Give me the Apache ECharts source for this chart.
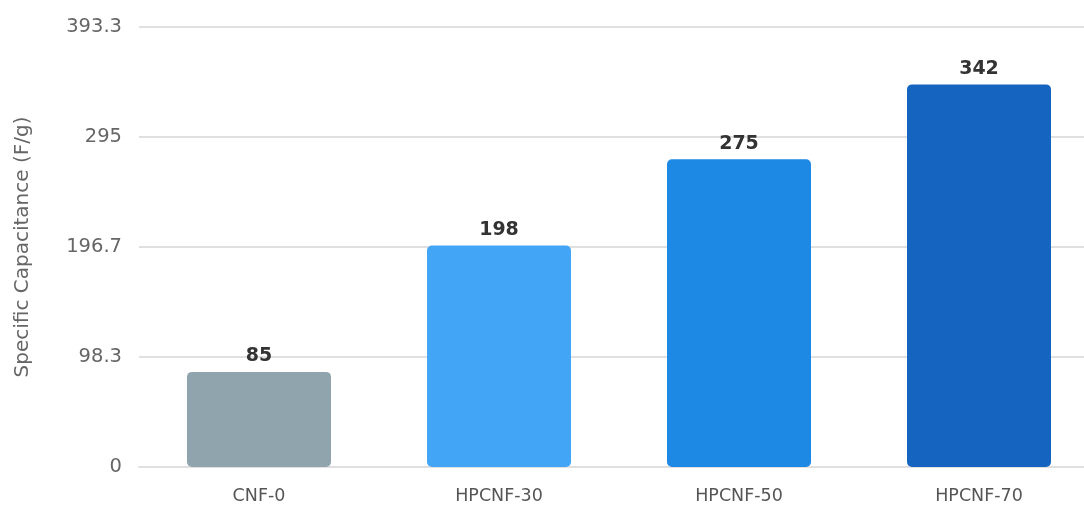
<!DOCTYPE html>
<html>
<head>
<meta charset="utf-8">
<script src="https://cdn.jsdelivr.net/npm/echarts@6/dist/echarts.min.js"></script>
<style>
  html, body { margin: 0; padding: 0; background: #fff; }
  #chart { width: 1084px; height: 505px; }
</style>
</head>
<body>
<div id="chart"></div>
<script>
var categories = ['CNF-0', 'HPCNF-30', 'HPCNF-50', 'HPCNF-70'];
var capacitance = [85, 198, 275, 342];
var barColors = ['#90A4AE', '#42A5F5', '#1E88E5', '#1565C0'];

var yMax = 393.3;
var yStep = yMax / 4;
var font = 'DejaVu Sans';

var chart = echarts.init(document.getElementById('chart'));
chart.setOption({
    animation: false,
    textStyle: { fontFamily: font },
    // plot runs a bit past the right edge, like the reference
    grid: { left: 139, width: 960, top: 27, bottom: 38, outerBoundsMode: 'none' },
    xAxis: {
        type: 'category',
        data: categories,
        axisLine: { show: true, lineStyle: { color: '#e0e0e0', width: 2 } },
        axisTick: { show: false },
        axisLabel: { color: '#555', fontFamily: font, fontSize: 17.5, margin: 20 }
    },
    yAxis: {
        type: 'value',
        min: 0,
        max: yMax,
        interval: yStep,
        name: 'Specific Capacitance (F/g)',
        nameLocation: 'middle',
        nameGap: 106,
        nameTextStyle: { color: '#666', fontFamily: font, fontSize: 20 },
        axisLine: { show: false },
        axisTick: { show: false },
        splitLine: { lineStyle: { color: '#e0e0e0', width: 2 } },
        axisLabel: {
            color: '#666',
            fontFamily: font,
            fontSize: 19.5,
            margin: 17,
            padding: [4, 0, 0, 0],
            formatter: function (v) {
                return String(Math.round(v * 10) / 10);
            }
        }
    },
    series: [{
        type: 'bar',
        barWidth: 144,
        data: capacitance.map(function (v, i) {
            return { value: v, itemStyle: { color: barColors[i] } };
        }),
        itemStyle: { borderRadius: 5 },
        label: {
            show: true,
            position: 'top',
            distance: 6,
            color: '#333',
            fontFamily: font,
            fontSize: 19,
            fontWeight: 'bold'
        }
    }]
});
</script>
</body>
</html>
